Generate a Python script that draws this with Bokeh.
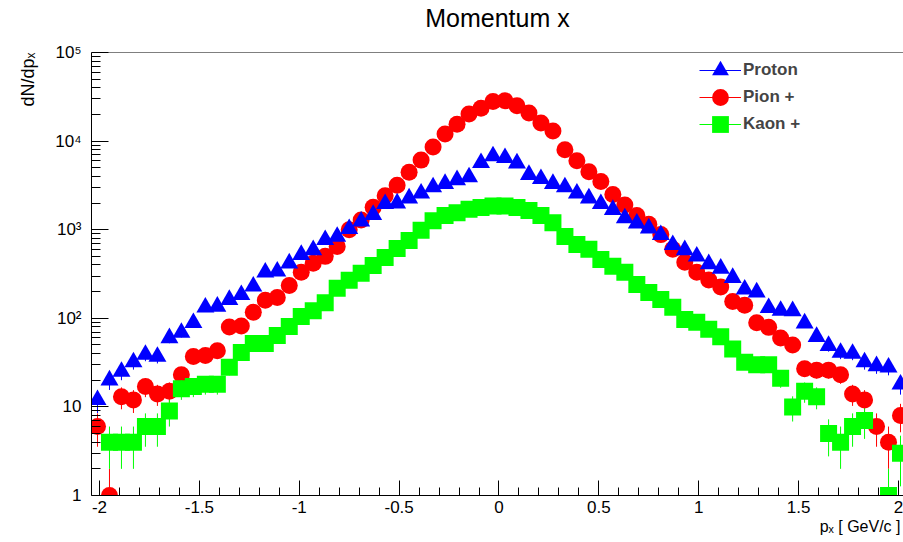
import numpy as np
from bokeh.plotting import figure
from bokeh.models import (ColumnDataSource, FixedTicker, Range1d, Span, Title,
                          Legend, LegendItem, CustomJSTickFormatter)
from bokeh.embed import file_html
from bokeh.resources import INLINE

# Histogram binning: 68 bins of width 0.06 GeV/c covering [-2.04, 2.04]
x_lo = -2.04
bin_width = 0.06
n_bins = 68

# dN/dp_x per bin (counts), left to right
proton = [12, 20, 25, 32, 39, 37, 60, 69, 89, 133,
          136, 162, 184, 229, 330, 339, 418, 522, 590, 769,
          836, 1023, 1240, 1477, 1960, 1990, 2265, 2570, 3020, 3300,
          3640, 3920, 5690, 6760, 6480, 5630, 4170, 3755, 3300, 3020,
          2570, 2265, 1960, 1680, 1350, 1180, 1040, 875, 675, 590,
          500, 410, 365, 287, 212, 197, 131, 122, 121, 88,
          62, 49, 41, 40, 32, 29, 28, 18]
pion = [6, 1, 13, 12, 17, 14, 15, 23, 37, 38,
        43, 80, 82, 117, 160, 172, 234, 330, 418, 500,
        647, 1000, 1290, 1790, 2420, 3170, 4450, 6100, 8600, 12000,
        15500, 20200, 23500, 28000, 28500, 25000, 20700, 16000, 13000, 8000,
        6000, 4500, 3500, 2500, 1900, 1450, 1150, 880, 600, 430,
        330, 270, 225, 155, 140, 89, 79, 60, 50, 27,
        26, 26, 23, 14, 12, 6, 4, 8]
kaon = [0, 4, 4, 4, 6, 6, 9, 16, 17, 18,
        18, 28, 41, 52, 52, 64, 81, 105, 122, 150,
        218, 268, 322, 395, 487, 612, 755, 985, 1260, 1450,
        1550, 1700, 1780, 1850, 1850, 1780, 1650, 1450, 1200, 840,
        680, 600, 460, 387, 330, 240, 195, 163, 133, 97,
        90, 75, 62, 45, 32, 30, 30, 21, 10, 15,
        13, 5, 4, 6, 7, 0, 1, 3]

x_ticks = [-2, -1.5, -1, -0.5, 0, 0.5, 1, 1.5, 2]
y_ticks = [1, 10, 100, 1000, 10000, 100000]

bin_centers = x_lo + bin_width * (np.arange(n_bins) + 0.5)

FONT = "Liberation Sans"

p = figure(width=903, height=542, y_axis_type="log", title=None,
           x_range=Range1d(-2.04, 2.025), y_range=Range1d(1, 1e5),
           output_backend="svg", toolbar_location=None,
           min_border_left=90, min_border_right=0,
           min_border_top=52, min_border_bottom=47)
p.xgrid.visible = False
p.ygrid.visible = False
p.outline_line_color = None
p.background_fill_color = "white"
p.border_fill_color = "white"

# thin spacer between the frame and the main title
p.add_layout(Title(text=" ", text_font_size="1px", standoff=18), "above")
p.add_layout(Title(text="Momentum x", align="center", text_font=FONT,
                   text_font_size="25px", text_font_style="normal",
                   text_color="black", standoff=0), "above")


def histo_source(counts):
    c = np.asarray(counts, dtype=float)
    keep = c > 0
    err = np.sqrt(c[keep])
    lo = np.maximum(c[keep] - err, 0.3)
    hi = c[keep] + err
    return ColumnDataSource(dict(x=bin_centers[keep], y=c[keep], lo=lo, hi=hi))


series = [
    ("Pion +", pion, "#ff0000", "circle", 17),
    ("Kaon +", kaon, "#00ff00", "square", 17),
    ("Proton", proton, "#0000ff", "triangle", 18),
]
rend = {}
for name, counts, color, marker, size in series:
    src = histo_source(counts)
    err = p.segment(x0="x", y0="lo", x1="x", y1="hi", source=src,
                    line_color=color, line_width=1)
    pts = p.scatter(x="x", y="y", source=src, marker=marker, size=size,
                    fill_color=color, line_color=color, line_width=0)
    rend[name] = (err, pts)

# top edge of the frame
p.add_layout(Span(location=1e5, dimension="width", line_color="black", line_width=1))

# axes: ticks drawn inward
xa = p.xaxis[0]
xa.ticker = FixedTicker(ticks=x_ticks,
                        minor_ticks=[round(-2 + 0.1 * i, 1) for i in range(41)])
xa.formatter = CustomJSTickFormatter(code="return String(tick);")
xa.major_tick_in = 15
xa.major_tick_out = 0
xa.minor_tick_in = 8
xa.minor_tick_out = 0
xa.major_label_standoff = 5
xa.major_label_text_font = FONT
xa.major_label_text_font_size = "17px"
xa.major_label_text_color = "black"
xa.axis_line_color = "black"

minor_y = [m * 10 ** e for e in range(0, 5) for m in range(2, 10)]
ya = p.yaxis[0]
ya.ticker = FixedTicker(ticks=y_ticks, minor_ticks=minor_y)
ya.formatter = CustomJSTickFormatter(code="""
const e = Math.round(Math.log10(tick));
if (e == 0) return "1";
if (e == 1) return "10";
const s = {2: "\u00b2", 3: "\u00b3", 4: "\u2074", 5: "\u2075"};
return "10" + s[e];
""")
ya.major_tick_in = 17
ya.major_tick_out = 0
ya.minor_tick_in = 9
ya.minor_tick_out = 0
ya.major_label_standoff = 10
ya.major_label_text_font = FONT
ya.major_label_text_font_size = "17px"
ya.major_label_text_color = "black"
ya.axis_line_color = "black"

# axis titles, aligned to the far end of each axis
p.add_layout(Title(text="dN/dp\u2093", align="right", text_font=FONT,
                   text_font_size="18px", text_font_style="normal",
                   text_color="black", standoff=30), "left")
p.add_layout(Title(text="p\u2093 [ GeV/c ]", align="right", text_font=FONT,
                   text_font_size="16px", text_font_style="normal",
                   text_color="black", standoff=0, offset=3), "below")

# one key per row so that the markers can be drawn at full size
legend_rows = [("Proton", 403), ("Pion +", 376), ("Kaon +", 349)]
for name, bottom in legend_rows:
    p.add_layout(Legend(items=[LegendItem(label=name, renderers=list(rend[name]))],
                        location=(608, bottom), glyph_width=42, glyph_height=44,
                        spacing=0, padding=0, margin=0, label_standoff=2,
                        border_line_color=None, background_fill_alpha=0,
                        label_text_font=FONT, label_text_font_style="bold",
                        label_text_font_size="17px"))

open("out.html", "w").write(file_html(p, INLINE))
